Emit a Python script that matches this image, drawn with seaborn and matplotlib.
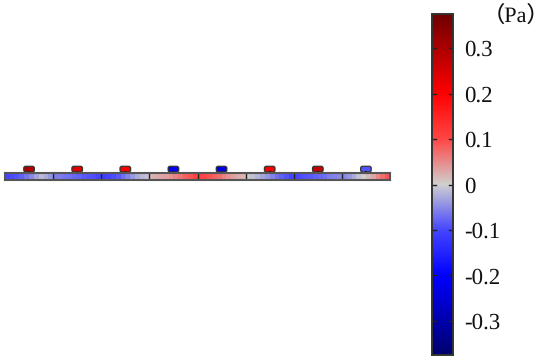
import matplotlib
matplotlib.use('Agg')

import matplotlib.pyplot as plt
import numpy as np
import seaborn as sns
from matplotlib.colors import LinearSegmentedColormap, Normalize
from matplotlib.patches import FancyBboxPatch

# pressure along the strip, ten readings per section (Pa)
section_1 = [-0.10, -0.095, -0.09, -0.08, -0.065, -0.05, -0.03, -0.015, -0.025, -0.04]
section_2 = [-0.06, -0.06, -0.065, -0.07, -0.075, -0.08, -0.085, -0.09, -0.095, -0.10]
section_3 = [-0.11, -0.105, -0.095, -0.085, -0.07, -0.055, -0.04, -0.025, -0.015, -0.01]
section_4 = [0.02, 0.025, 0.03, 0.035, 0.045, 0.055, 0.065, 0.08, 0.09, 0.105]
section_5 = [0.105, 0.10, 0.09, 0.08, 0.07, 0.055, 0.045, 0.035, 0.025, 0.02]
section_6 = [-0.005, -0.01, -0.02, -0.03, -0.04, -0.055, -0.07, -0.08, -0.09, -0.10]
section_7 = [-0.10, -0.095, -0.09, -0.085, -0.08, -0.075, -0.07, -0.06, -0.055, -0.05]
section_8 = [-0.05, -0.04, -0.025, -0.01, 0.00, 0.015, 0.03, 0.05, 0.07, 0.09]

# pressure on the small boxes above each section
box_values = [0.30, 0.24, 0.21, -0.21, -0.23, 0.21, 0.27, -0.09]

cbar_ticks = [-0.3, -0.2, -0.1, 0, 0.1, 0.2, 0.3]
cbar_labels = ['-0.3', '-0.2', '-0.1', '0', '0.1', '0.2', '0.3']
vmin, vmax = -0.375, 0.375

cmap = LinearSegmentedColormap.from_list('pa', [
    (0.0, '#00006e'), (0.233, '#0000ff'), (0.367, '#4646ff'), (0.5, '#cfcfcf'),
    (0.633, '#ff4646'), (0.767, '#ff0000'), (1.0, '#6e0000')], N=512)
norm = Normalize(vmin, vmax)

plt.rcParams['font.family'] = ['Liberation Serif', 'Noto Sans CJK SC']
plt.rcParams['text.hinting'] = 'no_hinting'

sections = [section_1, section_2, section_3, section_4,
            section_5, section_6, section_7, section_8]
strip = np.array(sections).ravel().reshape(1, -1)
n_per = len(section_1)

W, H = 550, 360
fig = plt.figure(figsize=(W / 100, H / 100), dpi=100)
ax = fig.add_axes([5 / W, 1 - 179.5 / H, 385 / W, 6 / H])
cax = fig.add_axes([431.5 / W, 1 - 355 / H, 21.5 / W, 341 / H])

sns.heatmap(strip, ax=ax, cmap=cmap, vmin=vmin, vmax=vmax, cbar_ax=cax,
            xticklabels=False, yticklabels=False)

# section dividers and outline of the strip
ax.vlines(np.arange(1, len(sections)) * n_per, 0, 1, color='#222222', lw=1)
for s in ax.spines.values():
    s.set_visible(True)
    s.set_color('#555555')
    s.set_linewidth(1.5)

# boxes sit above the strip, x in readings (4.8 px), y in strip heights (6 px)
for i, v in enumerate(box_values):
    cx = (i + 0.5) * n_per
    ax.plot([cx, cx], [0, -0.3], color='#222222', lw=1.5, clip_on=False)
    ax.add_patch(FancyBboxPatch((cx - 1.1, -1.2), 2.2, 0.95,
                                boxstyle='round,pad=0,rounding_size=0.4',
                                mutation_aspect=0.8, fc=cmap(norm(v)),
                                ec='#333333', lw=0.9, clip_on=False))

cax.set_yticks(cbar_ticks)
cax.set_yticklabels(cbar_labels)
cax.tick_params(axis='y', length=0, pad=8, labelsize=16.5, labelcolor='#111111')
for t in cbar_ticks:
    cax.plot([0, 0.2], [t, t], color='#222222', lw=1, transform=cax.get_yaxis_transform())
    cax.plot([0.8, 1], [t, t], color='#222222', lw=1, transform=cax.get_yaxis_transform())
for s in cax.spines.values():
    s.set_visible(True)
    s.set_color('#333333')
    s.set_linewidth(1.2)

fig.text(549.5 / W, 1 - 16 / H, '（Pa）', fontsize=16, ha='right', va='center',
         color='#111111', family=['Liberation Serif', 'Noto Sans CJK SC'])

fig.savefig('out.png', dpi=100)
